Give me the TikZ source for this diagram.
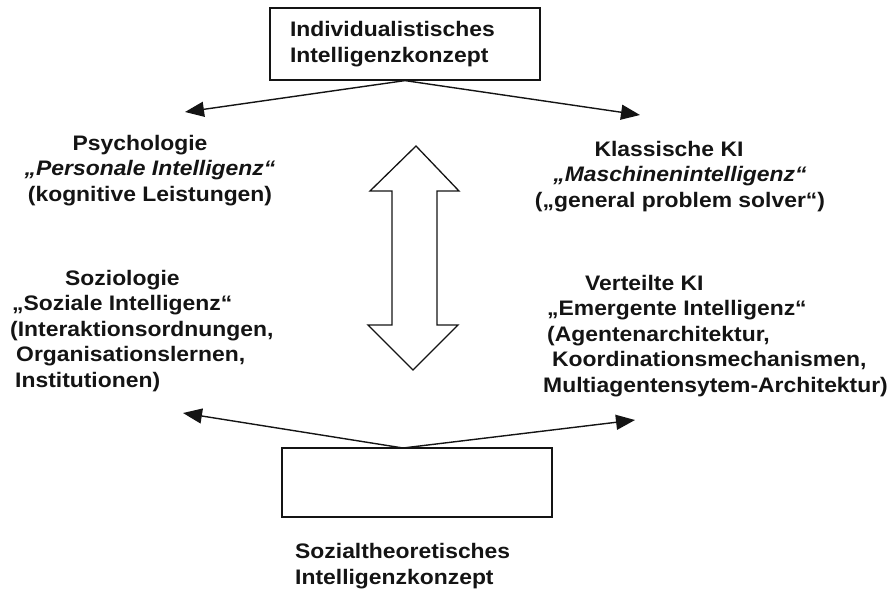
\documentclass[tikz,border=0pt]{standalone}
\usepackage{fontspec}
\setmainfont{Liberation Sans}[FakeStretch=1.09]
\usetikzlibrary{arrows.meta, positioning}
\definecolor{lineColor}{RGB}{20, 20, 20}
\tikzset{
    % --- Kaesten ---
    conceptBox/.style={
        rectangle, draw=lineColor, line width=1.2pt,
        minimum width=270pt, inner sep=0pt
    },
    % --- Texte ---
    fieldText/.style={
        inner sep=0pt, text=lineColor,
        font=\bfseries\fontsize{21}{25.5}\selectfont
    },
    % --- Pfeile ---
    branchArrow/.style={
        draw=lineColor, line width=1.4pt,
        -{Triangle[length=19pt, width=15pt]}
    },
    swapArrow/.style={
        draw=lineColor, line width=1.3pt, fill=white, line join=miter
    }
}

\begin{document}
\begin{tikzpicture}[x=1pt, y=-1pt]

	\useasboundingbox (0,0) rectangle (892,592);

	% =========================================================
	% 1. Konzepte (oben / unten)
	% =========================================================
	\node [conceptBox, fieldText, minimum height=72pt, text width=230pt,
		inner xsep=20pt, align=left] (indiv) at (405,44)
		{Individualistisches\\Intelligenzkonzept};

	\node [conceptBox, minimum height=69pt] (sozial) at (417,482.5) {};
	\node [fieldText, align=left, anchor=north west] (sozialLbl) at (295,543.5)
		{Sozialtheoretisches\\Intelligenzkonzept};

	% =========================================================
	% 2. Disziplinen
	% =========================================================
	\node [fieldText, align=center, anchor=north] (psy) at (150,135)
		{\hspace*{-20pt}Psychologie\\\textit{„Personale Intelligenz“}\\(kognitive Leistungen)};

	\node [fieldText, align=center, anchor=north] (kki) at (680,141)
		{\hspace*{-22pt}Klassische KI\\\textit{„Maschinenintelligenz“}\\(„general problem solver“)};

	\node [fieldText, align=left, anchor=north west] (soz) at (10,270)
		{\hspace*{55pt}Soziologie\\
		 \hspace*{2pt}„Soziale Intelligenz“\\
		 (Interaktionsordnungen,\\
		 \hspace*{6pt}Organisationslernen,\\
		 \hspace*{5pt}Institutionen)};

	\node [fieldText, align=left, anchor=north west] (vki) at (543,275)
		{\hspace*{42pt}Verteilte KI\\
		 \hspace*{4pt}„Emergente Intelligenz“\\
		 \hspace*{4pt}(Agentenarchitektur,\\
		 \hspace*{9pt}Koordinationsmechanismen,\\
		 Multiagentensytem-Architektur)};

	% =========================================================
	% 3. Verzweigungen
	% =========================================================
	\coordinate (psyTip) at (185,112);
	\coordinate (kkiTip) at (640,115);
	\coordinate (sozTip) at (183,413);
	\coordinate (vkiTip) at (635,420);
	\coordinate (sozTop) at (403,448);

	\draw [branchArrow] (indiv.south) -- (psyTip);
	\draw [branchArrow] (indiv.south) -- (kkiTip);
	\draw [branchArrow] (sozTop) -- (sozTip);
	\draw [branchArrow] (sozTop) -- (vkiTip);

	% =========================================================
	% 4. Doppelpfeil
	% =========================================================
	\draw [swapArrow] (416,146) -- (459,191) -- (437,191) -- (437,325)
		-- (458,325) -- (413,370) -- (368,325) -- (392,325)
		-- (392,191) -- (370,191) -- cycle;

\end{tikzpicture}
\end{document}
